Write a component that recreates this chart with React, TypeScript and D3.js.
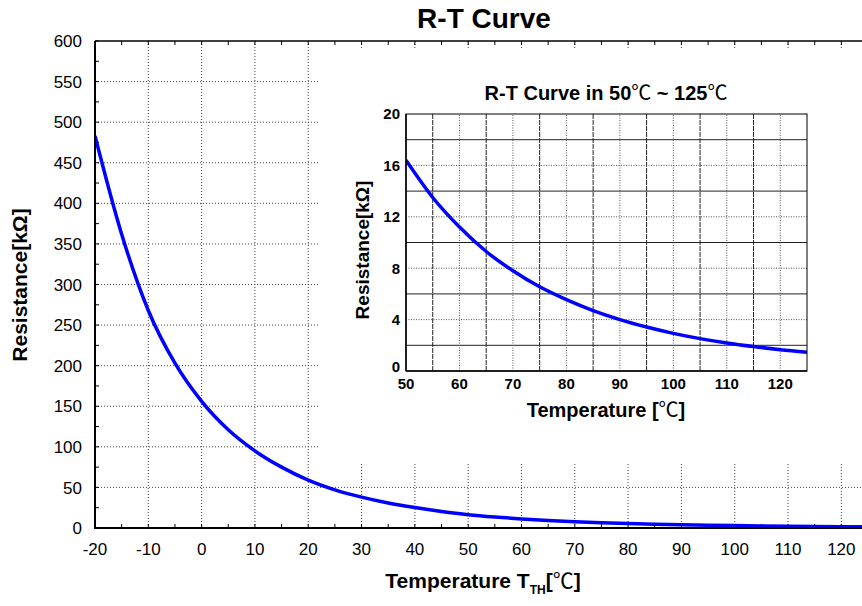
import * as d3 from "d3";
import * as React from "react";

// temperatures (°C) and resistance readings (kΩ) taken off the curve
const temps = [-20, -15, -10, -5, 0, 5, 10, 15, 20, 25, 30, 35, 40, 45, 50, 55, 60, 65, 70, 75, 80, 85, 90, 95, 100, 105, 110, 115, 120, 125];
const resistance = [483, 362, 268, 203, 156, 121, 95, 75, 59, 47, 38, 30.8, 25.2, 20.4, 16.4, 13.5, 11.2, 9.3, 7.8, 6.55, 5.55, 4.7, 4.0, 3.42, 2.93, 2.52, 2.18, 1.9, 1.66, 1.46];

const mainXTicks = [-20, -10, 0, 10, 20, 30, 40, 50, 60, 70, 80, 90, 100, 110, 120];
const mainYTicks = [0, 50, 100, 150, 200, 250, 300, 350, 400, 450, 500, 550, 600];
const insetXTicks = [50, 60, 70, 80, 90, 100, 110, 120];
const insetYTicks = [0, 4, 8, 12, 16, 20];

const FONT = "'Liberation Sans', Arial, 'Noto Sans CJK SC', sans-serif";
const CJK = "'Noto Sans CJK SC', sans-serif";
const BLUE = "#0000ff";

const Deg = () => <tspan fontFamily={CJK} fontWeight="normal">℃</tspan>;

export default function App() {
    const W = 862, H = 606;

    const x = d3.scaleLinear().domain([-20, 125]).range([95, 868]);
    const y = d3.scaleLinear().domain([0, 600]).range([528, 41]);

    const ix = d3.scaleLinear().domain([50, 125]).range([406, 807]);
    const iy = d3.scaleLinear().domain([0, 20]).range([371, 114]);

    const pts = temps.map((t, i) => ({ t, r: resistance[i] }));
    const mainLine = d3.line<{ t: number, r: number }>()
        .x(d => x(d.t)).y(d => y(d.r)).curve(d3.curveMonotoneX);
    const insetPts = pts.filter(d => d.t >= 50);
    const insetLine = d3.line<{ t: number, r: number }>()
        .x(d => ix(d.t)).y(d => iy(d.r)).curve(d3.curveMonotoneX);

    const xMinor = d3.range(-20, 126, 5);
    const yMinor = d3.range(0, 601, 25);
    const insetXMinor = d3.range(55, 125, 10);
    const insetXMajor = d3.range(60, 125, 10);
    const insetYMinor = d3.range(2, 20, 4);
    const insetYMajor = d3.range(4, 20, 4);

    return (
        <svg width={W} height={H} style={{ position: "absolute", left: 0, top: 0, background: "#fff" }}
            fontFamily={FONT}>
            <defs>
                <clipPath id="mainClip">
                    <rect x={x(-20)} y={y(600)} width={x(125) - x(-20)} height={y(0) - y(600)} />
                </clipPath>
                <clipPath id="insetClip">
                    <rect x={ix(50)} y={iy(20)} width={ix(125) - ix(50)} height={iy(0) - iy(20)} />
                </clipPath>
            </defs>

            {/* main grid */}
            <g stroke="#444" strokeWidth={1} strokeDasharray="1,2">
                {mainXTicks.filter(t => t > -20).map(t =>
                    <line key={"gx" + t} x1={x(t)} x2={x(t)} y1={y(0)} y2={y(600)} />)}
                {mainYTicks.filter(t => t > 0 && t < 600).map(t =>
                    <line key={"gy" + t} x1={x(-20)} x2={x(125)} y1={y(t)} y2={y(t)} />)}
            </g>

            {/* minor ticks on all visible sides */}
            <g stroke="#000" strokeWidth={1}>
                {xMinor.map(t => <line key={"bt" + t} x1={x(t)} x2={x(t)} y1={y(0)} y2={y(0) - 4} />)}
                {xMinor.map(t => <line key={"tt" + t} x1={x(t)} x2={x(t)} y1={y(600)} y2={y(600) + 4} />)}
                {yMinor.map(t => <line key={"lt" + t} x1={x(-20)} x2={x(-20) + 4} y1={y(t)} y2={y(t)} />)}
            </g>

            {/* main curve */}
            <path d={mainLine(pts) || ""} fill="none" stroke={BLUE} strokeWidth={3.5} clipPath="url(#mainClip)" />

            {/* frame */}
            <line x1={x(-20)} x2={x(125)} y1={y(600)} y2={y(600)} stroke="#000" strokeWidth={1.5} />
            <line x1={x(-20)} x2={x(125)} y1={y(0)} y2={y(0)} stroke="#000" strokeWidth={2} />
            <line x1={x(-20)} x2={x(-20)} y1={y(0) + 1} y2={y(600)} stroke="#000" strokeWidth={2} />

            {/* main tick labels */}
            <g fontSize={17} fill="#000">
                {mainXTicks.map(t =>
                    <text key={"xl" + t} x={x(t)} y={555} textAnchor="middle">{t}</text>)}
                {mainYTicks.map(t =>
                    <text key={"yl" + t} x={82} y={y(t)} dy="0.36em" textAnchor="end">{t}</text>)}
            </g>

            {/* titles */}
            <text x={484} y={28} textAnchor="middle" fontSize={28} fontWeight="bold">R-T Curve</text>
            <text x={483} y={588} textAnchor="middle" fontSize={21} fontWeight="bold">
                Temperature T<tspan fontSize={12} dy={6}>TH</tspan><tspan dy={-6}>[</tspan><Deg />]
            </text>
            <text transform="translate(27,285) rotate(-90)" textAnchor="middle" fontSize={21} fontWeight="bold">
                Resistance[kΩ]
            </text>

            {/* inset backdrop */}
            <rect x={320} y={50} width={W - 320} height={414} fill="#fff" />

            {/* inset grid */}
            <g stroke="#222" strokeWidth={1}>
                {insetYMinor.map(t => <line key={"iym" + t} x1={ix(50)} x2={ix(125)} y1={iy(t)} y2={iy(t)} />)}
                {insetXMinor.map(t => <line key={"ixm" + t} x1={ix(t)} x2={ix(t)} y1={iy(0)} y2={iy(20)}
                    strokeDasharray="5,1" />)}
            </g>
            <g stroke="#555" strokeWidth={1} strokeDasharray="1,1.5">
                {insetYMajor.map(t => <line key={"iyM" + t} x1={ix(50)} x2={ix(125)} y1={iy(t)} y2={iy(t)} />)}
                {insetXMajor.map(t => <line key={"ixM" + t} x1={ix(t)} x2={ix(t)} y1={iy(0)} y2={iy(20)} />)}
            </g>

            <path d={insetLine(insetPts) || ""} fill="none" stroke={BLUE} strokeWidth={3.5} clipPath="url(#insetClip)" />

            <rect x={ix(50)} y={iy(20)} width={ix(125) - ix(50)} height={iy(0) - iy(20)}
                fill="none" stroke="#000" strokeWidth={1} />
            <line x1={ix(50)} x2={ix(125)} y1={iy(0)} y2={iy(0)} stroke="#000" strokeWidth={1.5} />
            <line x1={ix(50)} x2={ix(50)} y1={iy(0)} y2={iy(20)} stroke="#000" strokeWidth={1.5} />

            {/* inset labels */}
            <g fontSize={15} fontWeight="bold" fill="#000">
                {insetXTicks.map(t =>
                    <text key={"ixl" + t} x={ix(t)} y={389} textAnchor="middle">{t}</text>)}
                {insetYTicks.map(t =>
                    <text key={"iyl" + t} x={400} y={iy(t) - (t === 0 ? 4 : 0)} dy="0.36em" textAnchor="end">{t}</text>)}
            </g>
            <text x={606} y={100} textAnchor="middle" fontSize={20} fontWeight="bold">
                R-T Curve in 50<Deg /> ~ 125<Deg />
            </text>
            <text x={606} y={417} textAnchor="middle" fontSize={20} fontWeight="bold">
                Temperature [<Deg />]
            </text>
            <text transform="translate(369,250) rotate(-90)" textAnchor="middle" fontSize={19} fontWeight="bold">
                Resistance[kΩ]
            </text>
        </svg>
    );
}
